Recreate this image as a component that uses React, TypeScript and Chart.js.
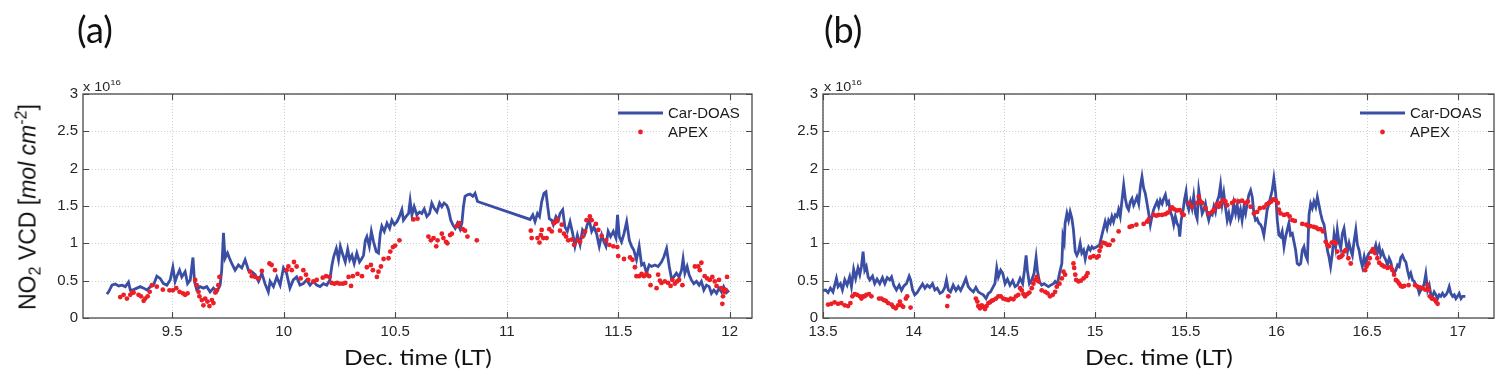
import React, { useEffect, useRef } from "react";
import { Chart, registerables } from "chart.js";

Chart.register(...registerables);

// ---------- DATA (NO2 VCD in units of 1e16 molec/cm2; time in decimal hours LT) ----------
const yTickValues = [0, 0.5, 1, 1.5, 2, 2.5, 3];
const xTicksA = [9.5, 10, 10.5, 11, 11.5, 12];
const xTicksB = [13.5, 14, 14.5, 15, 15.5, 16, 16.5, 17];
const xRangeA = [9.1, 12.1];
const xRangeB = [13.5, 17.2];
const seriesNames = ["Car-DOAS", "APEX"];
const panelLabels = ["(a)", "(b)"];

const carDoasA: [number, number][] = [
  [9.207,0.32],[9.215,0.35],[9.230,0.44],[9.245,0.455],[9.260,0.43],[9.275,0.44],[9.290,0.42],[9.304,0.48],[9.312,0.375],[9.327,0.38],
  [9.342,0.40],[9.357,0.42],[9.372,0.40],[9.387,0.375],[9.402,0.42],[9.416,0.44],[9.431,0.56],[9.446,0.53],[9.461,0.46],[9.476,0.44],
  [9.491,0.51],[9.503,0.68],[9.513,0.49],[9.521,0.56],[9.533,0.64],[9.543,0.55],[9.558,0.62],[9.569,0.46],[9.581,0.51],[9.593,0.81],
  [9.600,0.49],[9.610,0.38],[9.625,0.42],[9.640,0.40],[9.655,0.42],[9.670,0.35],[9.685,0.40],[9.700,0.35],[9.715,0.44],[9.722,0.64],
  [9.730,1.14],[9.737,0.80],[9.748,0.87],[9.757,0.80],[9.767,0.73],[9.782,0.64],[9.797,0.71],[9.812,0.67],[9.827,0.78],[9.842,0.64],
  [9.857,0.62],[9.872,0.58],[9.887,0.49],[9.902,0.60],[9.916,0.46],[9.931,0.35],[9.939,0.49],[9.954,0.42],[9.969,0.55],[9.984,0.44],
  [9.999,0.67],[10.013,0.60],[10.028,0.40],[10.043,0.51],[10.058,0.55],[10.073,0.44],[10.088,0.46],[10.103,0.51],[10.118,0.44],[10.133,0.49],
  [10.148,0.44],[10.163,0.42],[10.178,0.46],[10.193,0.44],[10.207,0.51],[10.216,0.70],[10.224,0.82],[10.236,0.93],[10.246,0.78],[10.254,0.96],
  [10.266,0.84],[10.276,0.75],[10.287,0.92],[10.296,0.78],[10.306,0.84],[10.316,0.73],[10.328,0.87],[10.340,0.75],[10.351,0.80],[10.358,0.84],
  [10.366,1.04],[10.373,1.09],[10.384,0.96],[10.393,1.16],[10.403,1.02],[10.415,0.89],[10.425,0.87],[10.433,1.13],[10.440,1.23],[10.451,1.16],
  [10.463,1.27],[10.475,1.20],[10.485,1.31],[10.496,1.25],[10.508,1.29],[10.519,1.36],[10.530,1.45],[10.537,1.31],[10.549,1.36],[10.560,1.40],
  [10.567,1.57],[10.575,1.38],[10.585,1.49],[10.597,1.38],[10.609,1.42],[10.619,1.40],[10.630,1.46],[10.642,1.36],[10.654,1.40],[10.664,1.54],
  [10.675,1.47],[10.687,1.42],[10.699,1.54],[10.709,1.49],[10.719,1.54],[10.731,1.51],[10.739,1.45],[10.749,1.31],[10.758,1.25],[10.769,1.20],
  [10.779,1.27],[10.791,1.19],[10.799,1.27],[10.806,1.49],[10.813,1.63],[10.824,1.65],[10.836,1.66],[10.848,1.63],[10.858,1.67],[10.869,1.56],
  [11.105,1.32],[11.117,1.38],[11.127,1.29],[11.138,1.40],[11.147,1.36],[11.157,1.56],[11.167,1.67],[11.176,1.69],[11.182,1.54],[11.191,1.33],
  [11.202,1.31],[11.209,1.25],[11.221,1.36],[11.232,1.31],[11.239,1.40],[11.251,1.45],[11.261,1.22],[11.272,1.16],[11.284,1.29],[11.296,1.13],
  [11.306,0.96],[11.317,1.11],[11.329,0.98],[11.340,1.18],[11.351,1.13],[11.361,1.25],[11.370,1.31],[11.381,1.16],[11.391,1.22],[11.403,1.13],
  [11.415,0.96],[11.426,1.11],[11.436,1.02],[11.445,0.96],[11.455,1.16],[11.466,1.09],[11.478,1.16],[11.490,1.07],[11.497,1.38],[11.505,1.09],
  [11.515,1.02],[11.526,1.13],[11.538,1.29],[11.550,1.04],[11.560,0.96],[11.570,0.91],[11.582,0.78],[11.594,0.96],[11.605,0.71],[11.615,0.73],
  [11.627,0.60],[11.639,0.71],[11.650,0.69],[11.664,0.71],[11.679,0.69],[11.694,0.75],[11.705,0.82],[11.717,0.93],[11.729,0.69],[11.739,0.53],
  [11.749,0.55],[11.761,0.60],[11.773,0.55],[11.784,0.64],[11.791,0.79],[11.799,0.60],[11.809,0.69],[11.818,0.58],[11.828,0.51],[11.839,0.46],
  [11.851,0.49],[11.863,0.44],[11.873,0.49],[11.884,0.375],[11.896,0.44],[11.908,0.42],[11.918,0.33],[11.929,0.375],[11.941,0.33],[11.952,0.40],
  [11.963,0.35],[11.973,0.42],[11.985,0.34],[11.997,0.37],
];

const apexA: [number, number][] = [
  [9.267,0.28],[9.282,0.31],[9.297,0.26],[9.312,0.31],[9.320,0.34],[9.327,0.34],[9.349,0.31],[9.360,0.29],[9.372,0.23],[9.379,0.26],
  [9.390,0.29],[9.399,0.35],[9.409,0.44],[9.431,0.42],[9.458,0.38],[9.488,0.37],[9.503,0.37],[9.518,0.40],[9.533,0.35],[9.548,0.33],
  [9.558,0.31],[9.569,0.33],[9.603,0.51],[9.610,0.44],[9.618,0.35],[9.622,0.29],[9.633,0.24],[9.640,0.17],[9.648,0.26],[9.658,0.22],
  [9.667,0.16],[9.678,0.24],[9.685,0.20],[9.693,0.34],[9.700,0.37],[9.707,0.44],[9.712,0.55],[9.849,0.62],[9.857,0.56],[9.872,0.55],
  [9.887,0.53],[9.902,0.63],[9.936,0.73],[9.946,0.71],[9.961,0.64],[10.013,0.64],[10.021,0.69],[10.036,0.64],[10.046,0.75],[10.058,0.69],
  [10.076,0.53],[10.088,0.64],[10.100,0.58],[10.110,0.51],[10.133,0.49],[10.148,0.51],[10.175,0.54],[10.190,0.56],[10.205,0.55],[10.215,0.47],
  [10.227,0.46],[10.239,0.47],[10.251,0.46],[10.266,0.46],[10.276,0.47],[10.291,0.55],[10.302,0.43],[10.310,0.56],[10.331,0.59],[10.351,0.56],
  [10.373,0.68],[10.391,0.71],[10.400,0.64],[10.418,0.55],[10.425,0.62],[10.436,0.69],[10.448,0.79],[10.470,0.80],[10.478,0.89],[10.490,0.95],
  [10.500,0.97],[10.519,1.04],[10.582,1.32],[10.600,1.33],[10.649,1.09],[10.660,1.04],[10.672,1.07],[10.684,0.96],[10.690,1.04],[10.709,1.13],
  [10.716,1.07],[10.728,1.02],[10.734,1.00],[10.746,1.11],[10.754,1.13],[10.776,1.23],[10.788,1.27],[10.803,1.19],[10.813,1.17],[10.824,1.09],
  [10.866,1.04],[11.108,1.17],[11.112,1.07],[11.138,1.07],[11.147,1.01],[11.153,1.11],[11.157,1.18],[11.164,1.07],[11.179,1.07],[11.191,1.19],
  [11.202,1.16],[11.212,1.27],[11.221,1.29],[11.227,1.32],[11.239,1.17],[11.247,1.25],[11.257,1.13],[11.266,1.09],[11.276,1.04],[11.291,1.05],
  [11.302,0.98],[11.317,1.04],[11.329,1.02],[11.341,1.09],[11.351,1.16],[11.358,1.31],[11.373,1.36],[11.381,1.31],[11.400,1.26],[11.411,1.18],
  [11.426,1.10],[11.445,1.04],[11.460,0.98],[11.478,0.96],[11.496,0.95],[11.500,0.83],[11.526,0.79],[11.553,0.81],[11.564,0.78],[11.575,0.68],
  [11.582,0.56],[11.594,0.56],[11.605,0.59],[11.615,0.56],[11.627,0.59],[11.639,0.56],[11.645,0.44],[11.672,0.40],[11.679,0.58],[11.687,0.50],
  [11.694,0.47],[11.709,0.49],[11.724,0.47],[11.735,0.43],[11.743,0.51],[11.754,0.46],[11.764,0.49],[11.773,0.51],[11.788,0.44],[11.844,0.69],
  [11.859,0.69],[11.866,0.64],[11.873,0.74],[11.888,0.56],[11.899,0.53],[11.911,0.51],[11.922,0.55],[11.933,0.49],[11.941,0.43],[11.952,0.51],
  [11.963,0.40],[11.967,0.19],[11.970,0.29],[11.975,0.35],[11.982,0.375],[11.988,0.55],
];

const carDoasB: [number, number][] = [
  [13.500,0.37],[13.515,0.375],[13.528,0.34],[13.541,0.40],[13.555,0.35],[13.574,0.53],[13.583,0.42],[13.596,0.46],[13.607,0.375],[13.620,0.51],
  [13.633,0.44],[13.647,0.55],[13.657,0.42],[13.669,0.65],[13.680,0.53],[13.693,0.67],[13.703,0.58],[13.712,0.69],[13.721,0.89],[13.730,0.64],
  [13.739,0.69],[13.749,0.55],[13.758,0.51],[13.773,0.56],[13.785,0.46],[13.798,0.52],[13.813,0.46],[13.828,0.54],[13.841,0.46],[13.854,0.54],
  [13.868,0.51],[13.878,0.55],[13.890,0.44],[13.905,0.375],[13.920,0.44],[13.933,0.37],[13.946,0.43],[13.960,0.46],[13.975,0.56],[13.983,0.51],
  [13.994,0.375],[14.006,0.31],[14.019,0.34],[14.034,0.40],[14.049,0.455],[14.062,0.40],[14.075,0.44],[14.089,0.41],[14.104,0.46],[14.117,0.375],
  [14.130,0.40],[14.145,0.33],[14.159,0.35],[14.172,0.41],[14.181,0.51],[14.191,0.375],[14.203,0.35],[14.218,0.44],[14.233,0.37],[14.246,0.42],
  [14.259,0.37],[14.273,0.44],[14.288,0.53],[14.301,0.42],[14.314,0.38],[14.329,0.35],[14.343,0.41],[14.356,0.35],[14.369,0.33],[14.384,0.31],
  [14.399,0.26],[14.412,0.33],[14.424,0.35],[14.439,0.42],[14.448,0.46],[14.458,0.67],[14.467,0.55],[14.480,0.64],[14.491,0.60],[14.504,0.46],
  [14.517,0.52],[14.531,0.44],[14.546,0.50],[14.559,0.42],[14.572,0.44],[14.587,0.53],[14.601,0.46],[14.611,0.64],[14.620,0.84],[14.627,0.64],
  [14.638,0.46],[14.651,0.51],[14.664,0.60],[14.675,0.81],[14.682,0.64],[14.693,0.49],[14.706,0.44],[14.719,0.46],[14.730,0.44],[14.743,0.42],
  [14.756,0.44],[14.771,0.46],[14.780,0.49],[14.793,0.46],[14.804,0.60],[14.817,0.73],[14.823,1.09],[14.830,1.02],[14.835,1.27],[14.845,1.40],
  [14.854,1.31],[14.863,1.42],[14.872,1.34],[14.881,1.18],[14.891,0.89],[14.900,0.84],[14.909,0.89],[14.918,1.00],[14.927,0.87],[14.937,0.91],
  [14.946,0.79],[14.955,0.89],[14.964,0.95],[14.974,0.91],[14.983,0.955],[14.992,0.93],[15.010,0.955],[15.025,0.98],[15.038,1.11],[15.047,1.20],
  [15.056,1.29],[15.066,1.20],[15.075,1.31],[15.084,1.27],[15.093,1.36],[15.102,1.29],[15.112,1.38],[15.121,1.36],[15.130,1.45],[15.139,1.36],
  [15.148,1.56],[15.158,1.78],[15.167,1.60],[15.176,1.49],[15.185,1.45],[15.195,1.56],[15.204,1.60],[15.213,1.51],[15.222,1.56],[15.231,1.62],
  [15.241,1.53],[15.250,1.76],[15.259,1.89],[15.268,1.74],[15.277,1.67],[15.287,1.53],[15.296,1.40],[15.305,1.25],[15.314,1.36],[15.323,1.45],
  [15.333,1.51],[15.342,1.56],[15.351,1.49],[15.360,1.58],[15.370,1.53],[15.379,1.60],[15.388,1.65],[15.397,1.53],[15.406,1.56],[15.416,1.42],
  [15.425,1.36],[15.434,1.25],[15.443,1.36],[15.452,1.27],[15.462,1.22],[15.467,1.09],[15.475,1.31],[15.486,1.45],[15.493,1.58],[15.502,1.69],
  [15.508,1.53],[15.517,1.45],[15.526,1.56],[15.535,1.47],[15.544,1.63],[15.554,1.40],[15.563,1.33],[15.572,1.71],[15.581,1.56],[15.591,1.40],
  [15.600,1.45],[15.609,1.53],[15.618,1.40],[15.627,1.31],[15.636,1.40],[15.646,1.38],[15.655,1.49],[15.664,1.42],[15.673,1.56],[15.683,1.63],
  [15.692,1.78],[15.701,1.53],[15.710,1.67],[15.719,1.49],[15.729,1.31],[15.738,1.40],[15.747,1.29],[15.756,1.36],[15.765,1.53],[15.775,1.40],
  [15.784,1.51],[15.793,1.36],[15.802,1.45],[15.811,1.31],[15.821,1.49],[15.830,1.40],[15.839,1.53],[15.848,1.65],[15.858,1.71],[15.867,1.62],
  [15.876,1.40],[15.885,1.31],[15.894,1.33],[15.903,1.27],[15.913,1.25],[15.922,1.20],[15.931,1.11],[15.940,1.27],[15.949,1.45],[15.959,1.53],
  [15.968,1.62],[15.977,1.71],[15.986,1.87],[15.996,1.67],[16.005,1.31],[16.014,1.11],[16.023,1.09],[16.032,1.16],[16.042,0.955],[16.051,1.09],
  [16.060,1.18],[16.069,1.27],[16.078,1.11],[16.088,1.13],[16.097,1.02],[16.106,0.91],[16.115,0.73],[16.125,0.71],[16.134,0.73],[16.143,0.91],
  [16.152,0.955],[16.161,0.84],[16.171,0.78],[16.180,1.38],[16.189,1.53],[16.198,1.47],[16.207,1.56],[16.217,1.49],[16.226,1.62],[16.235,1.51],
  [16.244,1.40],[16.253,1.31],[16.263,1.25],[16.272,1.09],[16.281,0.91],[16.290,0.82],[16.299,0.69],[16.309,0.87],[16.318,1.11],[16.327,0.955],
  [16.336,1.18],[16.345,1.02],[16.355,0.93],[16.364,1.13],[16.373,1.20],[16.382,1.04],[16.392,0.89],[16.401,1.00],[16.410,0.91],[16.419,0.84],
  [16.428,1.02],[16.438,1.18],[16.447,0.98],[16.456,0.91],[16.465,0.78],[16.474,0.69],[16.484,0.82],[16.493,0.71],[16.502,0.82],[16.511,0.87],
  [16.520,0.89],[16.530,0.93],[16.539,0.91],[16.548,0.98],[16.557,0.87],[16.567,0.955],[16.576,0.84],[16.585,0.89],[16.594,0.82],[16.603,0.78],
  [16.613,0.71],[16.622,0.80],[16.631,0.75],[16.640,0.64],[16.649,0.60],[16.659,0.64],[16.668,0.71],[16.677,0.69],[16.686,0.81],[16.695,0.84],
  [16.705,0.78],[16.714,0.75],[16.723,0.64],[16.732,0.55],[16.741,0.60],[16.751,0.51],[16.760,0.49],[16.769,0.44],[16.778,0.42],[16.788,0.33],
  [16.797,0.375],[16.806,0.40],[16.815,0.46],[16.824,0.59],[16.834,0.375],[16.843,0.44],[16.852,0.31],[16.861,0.29],[16.870,0.35],[16.880,0.31],
  [16.889,0.26],[16.898,0.31],[16.907,0.29],[16.916,0.33],[16.926,0.29],[16.935,0.31],[16.944,0.35],[16.953,0.42],[16.962,0.33],[16.972,0.29],
  [16.981,0.31],[16.990,0.26],[16.999,0.29],[17.008,0.33],[17.018,0.26],[17.027,0.29],[17.042,0.29],
];

const apexB: [number, number][] = [
  [13.528,0.18],[13.546,0.19],[13.564,0.21],[13.583,0.19],[13.601,0.20],[13.620,0.17],[13.638,0.16],[13.651,0.20],[13.662,0.29],[13.675,0.32],
  [13.688,0.31],[13.703,0.29],[13.712,0.26],[13.721,0.29],[13.730,0.29],[13.739,0.31],[13.754,0.32],[13.767,0.29],[13.809,0.26],[13.822,0.26],
  [13.835,0.24],[13.846,0.23],[13.859,0.20],[13.878,0.18],[13.887,0.15],[13.901,0.13],[13.914,0.17],[13.924,0.22],[13.933,0.17],[13.942,0.15],
  [13.957,0.26],[13.964,0.29],[13.983,0.14],[14.185,0.16],[14.191,0.29],[14.343,0.26],[14.351,0.22],[14.356,0.16],[14.366,0.13],[14.375,0.17],
  [14.384,0.15],[14.393,0.12],[14.402,0.16],[14.412,0.20],[14.421,0.21],[14.430,0.23],[14.439,0.24],[14.454,0.26],[14.467,0.29],[14.480,0.29],
  [14.494,0.26],[14.509,0.25],[14.522,0.24],[14.535,0.26],[14.550,0.25],[14.564,0.29],[14.577,0.31],[14.587,0.40],[14.596,0.37],[14.605,0.32],
  [14.614,0.29],[14.627,0.32],[14.638,0.34],[14.651,0.40],[14.660,0.46],[14.669,0.51],[14.679,0.55],[14.688,0.49],[14.706,0.37],[14.725,0.35],
  [14.738,0.33],[14.752,0.29],[14.767,0.31],[14.780,0.35],[14.789,0.42],[14.804,0.46],[14.817,0.53],[14.826,0.62],[14.835,0.58],[14.881,0.73],
  [14.885,0.67],[14.891,0.58],[14.896,0.51],[14.909,0.49],[14.922,0.50],[14.937,0.53],[14.951,0.56],[14.959,0.60],[14.974,0.81],[14.992,0.83],
  [15.010,0.81],[15.020,0.83],[15.025,0.90],[15.032,0.955],[15.043,1.01],[15.056,1.00],[15.069,0.98],[15.080,0.98],[15.099,1.04],[15.130,1.16],
  [15.191,1.22],[15.204,1.23],[15.228,1.25],[15.268,1.26],[15.287,1.29],[15.296,1.32],[15.323,1.38],[15.338,1.37],[15.351,1.38],[15.370,1.38],
  [15.388,1.39],[15.401,1.41],[15.416,1.455],[15.425,1.48],[15.438,1.455],[15.452,1.44],[15.467,1.445],[15.480,1.40],[15.489,1.38],[15.517,1.54],
  [15.535,1.49],[15.563,1.54],[15.572,1.625],[15.581,1.56],[15.591,1.54],[15.609,1.47],[15.627,1.40],[15.646,1.42],[15.655,1.45],[15.670,1.52],
  [15.683,1.49],[15.692,1.54],[15.706,1.58],[15.719,1.56],[15.729,1.51],[15.756,1.54],[15.769,1.57],[15.793,1.56],[15.811,1.57],[15.830,1.54],
  [15.843,1.56],[15.858,1.49],[15.876,1.40],[15.894,1.42],[15.909,1.47],[15.931,1.48],[15.946,1.52],[15.959,1.54],[15.972,1.56],[15.983,1.59],
  [15.996,1.58],[16.008,1.54],[16.014,1.45],[16.023,1.40],[16.042,1.38],[16.060,1.39],[16.073,1.36],[16.088,1.31],[16.102,1.30],[16.143,1.26],
  [16.165,1.25],[16.176,1.23],[16.189,1.23],[16.207,1.22],[16.220,1.21],[16.231,1.19],[16.244,1.19],[16.257,1.16],[16.272,1.02],[16.281,0.98],
  [16.290,0.96],[16.305,1.01],[16.318,1.02],[16.327,1.00],[16.336,0.89],[16.345,0.81],[16.355,0.82],[16.364,0.84],[16.373,0.89],[16.382,0.91],
  [16.397,0.80],[16.410,0.73],[16.489,0.64],[16.497,0.69],[16.508,0.73],[16.515,0.80],[16.526,0.89],[16.533,0.92],[16.544,0.87],[16.557,0.80],
  [16.567,0.74],[16.581,0.71],[16.594,0.69],[16.613,0.67],[16.631,0.68],[16.640,0.64],[16.649,0.58],[16.659,0.51],[16.668,0.49],[16.677,0.46],
  [16.686,0.43],[16.695,0.42],[16.705,0.43],[16.729,0.44],[16.765,0.44],[16.778,0.42],[16.791,0.41],[16.806,0.40],[16.821,0.38],[16.834,0.44],
  [16.839,0.375],[16.846,0.29],[16.857,0.26],[16.870,0.25],[16.880,0.22],[16.889,0.19],
];

// ---------- STYLE ----------
const BLUE = "#3a4ea3";
const RED = "#ec1f26";
const AXIS = "#4a4a4a";
const GRID = "#cfcfcf";
const TICK_FONT = '"Liberation Sans", Arial, sans-serif';
const LABEL_FONT = 'Lato, "Open Sans", sans-serif';

const framePlugin = {
  id: "frame",
  beforeDatasetsDraw(chart: any) {
    const { ctx, chartArea: a, scales } = chart;
    ctx.save();
    ctx.strokeStyle = GRID;
    ctx.lineWidth = 1;
    ctx.setLineDash([1, 2]);
    for (const t of scales.x.ticks) {
      const px = Math.round(scales.x.getPixelForValue(t.value)) + 0.5;
      ctx.beginPath();
      ctx.moveTo(px, a.top);
      ctx.lineTo(px, a.bottom);
      ctx.stroke();
    }
    for (const t of scales.y.ticks) {
      const py = Math.round(scales.y.getPixelForValue(t.value)) + 0.5;
      ctx.beginPath();
      ctx.moveTo(a.left, py);
      ctx.lineTo(a.right, py);
      ctx.stroke();
    }
    ctx.restore();
  },
  afterDatasetsDraw(chart: any) {
    const { ctx, chartArea: a, scales } = chart;
    ctx.save();
    ctx.strokeStyle = AXIS;
    ctx.lineWidth = 1.3;
    ctx.setLineDash([]);
    ctx.strokeRect(a.left, a.top, a.right - a.left, a.bottom - a.top);
    const tl = 6;
    ctx.lineWidth = 1.1;
    for (const t of scales.x.ticks) {
      const px = Math.round(scales.x.getPixelForValue(t.value)) + 0.5;
      ctx.beginPath();
      ctx.moveTo(px, a.bottom);
      ctx.lineTo(px, a.bottom - tl);
      ctx.moveTo(px, a.top);
      ctx.lineTo(px, a.top + tl);
      ctx.stroke();
    }
    for (const t of scales.y.ticks) {
      const py = Math.round(scales.y.getPixelForValue(t.value)) + 0.5;
      ctx.beginPath();
      ctx.moveTo(a.left, py);
      ctx.lineTo(a.left + tl, py);
      ctx.moveTo(a.right, py);
      ctx.lineTo(a.right - tl, py);
      ctx.stroke();
    }
    // legend
    const y1 = a.top + 19;
    const y2 = a.top + 38;
    ctx.strokeStyle = BLUE;
    ctx.lineWidth = 3;
    ctx.beginPath();
    ctx.moveTo(a.right - 134, y1);
    ctx.lineTo(a.right - 89, y1);
    ctx.stroke();
    ctx.fillStyle = RED;
    ctx.beginPath();
    ctx.arc(a.right - 111.5, y2, 2.4, 0, Math.PI * 2);
    ctx.fill();
    ctx.fillStyle = "#1a1a1a";
    ctx.font = `15px ${TICK_FONT}`;
    ctx.textBaseline = "middle";
    ctx.textAlign = "left";
    ctx.fillText(seriesNames[0], a.right - 84, y1 + 1);
    ctx.fillText(seriesNames[1], a.right - 84, y2 + 1);
    ctx.restore();
  },
};

type PanelProps = {
  left: number;
  width: number;
  yWidth: number;
  padRight: number;
  range: number[];
  xTicks: number[];
  car: [number, number][];
  apex: [number, number][];
};

function Panel({ left, width, yWidth, padRight, range, xTicks, car, apex }: PanelProps) {
  const ref = useRef<HTMLCanvasElement | null>(null);
  useEffect(() => {
    if (!ref.current) return;
    const chart = new Chart(ref.current, {
      type: "scatter",
      data: {
        datasets: [
          {
            label: seriesNames[0],
            data: car.map(([x, y]) => ({ x, y })),
            showLine: true,
            borderColor: BLUE,
            backgroundColor: BLUE,
            borderWidth: 2.8,
            pointRadius: 0,
            tension: 0,
            order: 2,
          },
          {
            label: seriesNames[1],
            data: apex.map(([x, y]) => ({ x, y })),
            showLine: false,
            backgroundColor: RED,
            borderWidth: 0,
            pointRadius: 2.4,
            order: 1,
          },
        ],
      },
      options: {
        animation: false,
        responsive: true,
        maintainAspectRatio: false,
        events: [],
        layout: { padding: { top: 94, right: padRight, left: 0, bottom: 0 }, autoPadding: false },
        plugins: { legend: { display: false }, tooltip: { enabled: false }, title: { display: false } },
        scales: {
          x: {
            type: "linear",
            min: range[0],
            max: range[1],
            afterBuildTicks: (s: any) => {
              s.ticks = xTicks.map((v) => ({ value: v }));
            },
            afterFit: (s: any) => {
              s.height = 61;
            },
            grid: { display: false, drawTicks: false },
            border: { display: false },
            ticks: {
              autoSkip: false,
              maxRotation: 0,
              padding: 5,
              color: "#262626",
              font: { family: TICK_FONT, size: 15 },
              callback: (v: any) => String(v),
            },
          },
          y: {
            type: "linear",
            min: 0,
            max: 3,
            afterBuildTicks: (s: any) => {
              s.ticks = yTickValues.map((v) => ({ value: v }));
            },
            afterFit: (s: any) => {
              s.width = yWidth;
            },
            grid: { display: false, drawTicks: false },
            border: { display: false },
            ticks: {
              autoSkip: false,
              padding: 5,
              color: "#262626",
              font: { family: TICK_FONT, size: 15 },
              callback: (v: any) => String(v),
            },
          },
        },
      },
      plugins: [framePlugin],
    });
    return () => chart.destroy();
  }, []);
  return (
    <div style={{ position: "absolute", left, top: 0, width, height: 379 }}>
      <canvas ref={ref} />
    </div>
  );
}

const abs = (s: React.CSSProperties): React.CSSProperties => ({ position: "absolute", whiteSpace: "nowrap", ...s });

export default function App() {
  const exponent = (left: number) => (
    <div
      style={abs({
        left,
        top: 77,
        fontFamily: TICK_FONT,
        fontSize: 12,
        lineHeight: "12px",
        color: "#262626",
        transform: "scaleX(1.2)",
        transformOrigin: "left top",
      })}
    >
      x 10<sup style={{ fontSize: 8, verticalAlign: "6px" }}>16</sup>
    </div>
  );
  const xTitle = (cx: number) => (
    <div
      style={abs({
        left: cx,
        top: 356,
        transform: "translate(-50%, -50%) scaleX(1.17)",
        fontFamily: LABEL_FONT,
        fontSize: 21,
        lineHeight: "21px",
        color: "#111",
      })}
    >
      Dec. time (LT)
    </div>
  );
  const panelLabel = (left: number, text: string) => (
    <div style={abs({ left, top: 29, transform: "translateY(-50%)", fontFamily: LABEL_FONT, fontSize: 36, lineHeight: "36px", color: "#111" })}>
      {text}
    </div>
  );
  return (
    <div style={{ position: "absolute", left: 0, top: 0, width: 1507, height: 379, background: "#fff", overflow: "hidden" }}>
      <Panel left={0} width={760} yWidth={83} padRight={8} range={xRangeA} xTicks={xTicksA} car={carDoasA} apex={apexA} />
      <Panel left={754} width={753} yWidth={69} padRight={13} range={xRangeB} xTicks={xTicksB} car={carDoasB} apex={apexB} />
      {panelLabel(77, panelLabels[0])}
      {panelLabel(824, panelLabels[1])}
      {exponent(83)}
      {exponent(824)}
      {xTitle(417.5)}
      {xTitle(1158.6)}
      <div
        style={abs({
          left: 28,
          top: 207,
          transform: "translate(-50%, -50%) rotate(-90deg)",
          fontFamily: TICK_FONT,
          fontSize: 23,
          lineHeight: "23px",
          color: "#111",
        })}
      >
        NO<sub style={{ fontSize: 16, verticalAlign: "-5px" }}>2</sub> VCD [<i>mol cm</i>
        <sup style={{ fontSize: 16, verticalAlign: "9px" }}>-2</sup>]
      </div>
    </div>
  );
}
